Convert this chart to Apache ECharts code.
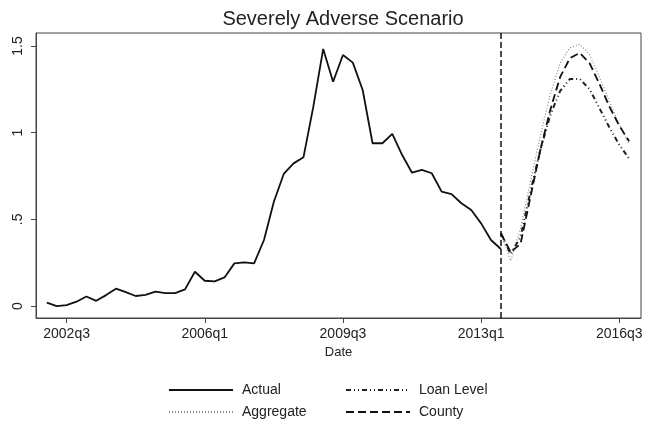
<!DOCTYPE html>
<html>
<head>
<meta charset="utf-8">
<script src="https://cdn.jsdelivr.net/npm/echarts@6/dist/echarts.min.js"></script>
<style>
  html, body { margin: 0; padding: 0; background: #fff; }
  #chart { width: 647px; height: 424px; }
</style>
</head>
<body>
<div id="chart"></div>
<script>
// quarters are counted from 2002q3 (= 0)
var actualStart = "2002q1";
var forecastStart = "2013q3";
var tickLabels = ["2002q3", "2006q1", "2009q3", "2013q1", "2016q3"];
var yTicks = [0, 0.5, 1, 1.5];

var actual = [
  0.02, 0.0, 0.005, 0.025, 0.055, 0.03, 0.063, 0.10, 0.08, 0.058,
  0.065, 0.083, 0.075, 0.075, 0.096, 0.198, 0.146, 0.142, 0.165, 0.246,
  0.252, 0.246, 0.381, 0.602, 0.762, 0.823, 0.858, 1.15, 1.483, 1.294,
  1.448, 1.404, 1.246, 0.939, 0.939, 0.993, 0.871, 0.769, 0.785, 0.766,
  0.66, 0.646, 0.593, 0.554, 0.477, 0.381, 0.329
];
var aggregate = [0.42, 0.26, 0.45, 0.72, 0.98, 1.22, 1.40, 1.49, 1.51, 1.45, 1.32, 1.18, 1.05, 0.93];
var loanLevel = [0.42, 0.30, 0.40, 0.66, 0.90, 1.10, 1.24, 1.31, 1.31, 1.25, 1.14, 1.03, 0.93, 0.85];
var county = [0.42, 0.31, 0.36, 0.63, 0.90, 1.13, 1.32, 1.43, 1.46, 1.40, 1.28, 1.15, 1.04, 0.95];

function qIndex(s) {
  var y = parseInt(s.slice(0, 4), 10);
  var q = parseInt(s.slice(5), 10);
  return (y - 2002) * 4 + q - 3;
}
function qLabel(i) {
  var n = i + 2; // quarters from 2002q1
  return (2002 + Math.floor(n / 4)) + "q" + ((n % 4) + 1);
}
function toPairs(start, vals) {
  var s = qIndex(start);
  return vals.map(function (v, i) { return [s + i, v]; });
}

var chart = echarts.init(document.getElementById("chart"));
var font = "Liberation Sans, Arial, sans-serif";

var legendBase = {
  top: 378, orient: "vertical", itemGap: 8,
  itemWidth: 64, itemHeight: 14,
  itemStyle: { opacity: 0 },
  textStyle: { fontFamily: font, fontSize: 14, color: "#222", padding: [0, 0, 0, 4] }
};

var option = {
  backgroundColor: "#fff",
  animation: false,
  title: {
    text: "Severely Adverse Scenario",
    left: 338,
    textAlign: "center",
    top: 4,
    textStyle: { fontFamily: font, fontSize: 20, fontWeight: "normal", color: "#222" }
  },
  grid: {
    left: 36, right: 6, top: 33, bottom: 106,
    show: true, borderColor: "#444", borderWidth: 1
  },
  legend: [
    Object.assign({ left: 163, data: ["Actual", "Aggregate"] }, legendBase),
    Object.assign({ left: 340, data: ["Loan Level", "County"] }, legendBase)
  ],
  xAxis: {
    type: "value",
    min: -3.1, max: 58.2,
    name: "Date",
    nameLocation: "middle",
    nameGap: 28,
    nameTextStyle: { fontFamily: font, fontSize: 13, color: "#222" },
    splitLine: { show: false },
    axisLine: { show: true, onZero: false, lineStyle: { color: "#444" } },
    axisTick: { show: true, length: 5, lineStyle: { color: "#444" },
      customValues: tickLabels.map(qIndex) },
    axisLabel: {
      customValues: tickLabels.map(qIndex),
      formatter: function (v) { return qLabel(Math.round(v)); },
      fontFamily: font, fontSize: 14, color: "#222", margin: 9
    }
  },
  yAxis: {
    type: "value",
    min: -0.069, max: 1.575,
    splitLine: { show: false },
    axisLine: { show: true, onZero: false, lineStyle: { color: "#444" } },
    axisTick: { show: true, length: 5, lineStyle: { color: "#444" }, customValues: yTicks },
    axisLabel: {
      customValues: yTicks,
      rotate: 90,
      formatter: function (v) { return v === 0 ? "0" : String(v).replace(/^0\./, "."); },
      fontFamily: font, fontSize: 14, color: "#222", margin: 11
    }
  },
  series: [
    {
      name: "Actual", type: "line", symbol: "none",
      data: toPairs(actualStart, actual),
      lineStyle: { color: "#111", width: 1.8, type: "solid" },
      itemStyle: { color: "#111" },
      markLine: {
        silent: true, symbol: "none", label: { show: false },
        lineStyle: { color: "#111", width: 1.5, type: [6, 3] },
        data: [{ xAxis: qIndex(forecastStart) }]
      }
    },
    {
      name: "Aggregate", type: "line", symbol: "none",
      data: toPairs(forecastStart, aggregate),
      lineStyle: { color: "#888", width: 1.2, type: [1, 2] },
      itemStyle: { color: "#888" }
    },
    {
      name: "Loan Level", type: "line", symbol: "none",
      data: toPairs(forecastStart, loanLevel),
      lineStyle: { color: "#222", width: 2, type: [5, 3, 1, 3, 1, 3] },
      itemStyle: { color: "#222" }
    },
    {
      name: "County", type: "line", symbol: "none",
      data: toPairs(forecastStart, county),
      lineStyle: { color: "#111", width: 1.8, type: [8, 4] },
      itemStyle: { color: "#111" }
    }
  ]
};
chart.setOption(option);
</script>
</body>
</html>
